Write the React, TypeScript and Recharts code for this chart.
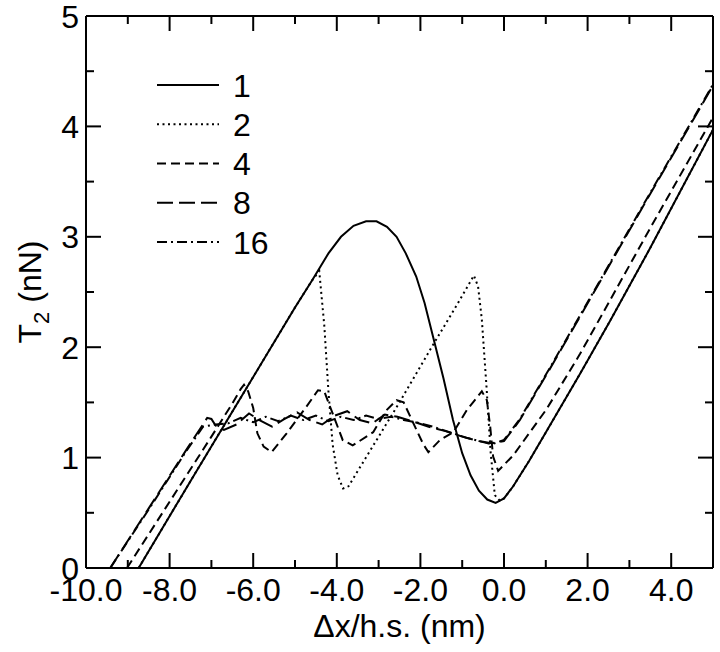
import { LineChart, Line, XAxis, YAxis, Legend, ReferenceLine } from "recharts";

type Pt = [number, number];

// values, [x (nm), T2 (nN)]
const series1: Pt[] = [
  [-8.74, 0], [-7.48, 0.8], [-6.0, 1.73], [-5.0, 2.36], [-4.6, 2.6], [-4.2, 2.85],
  [-3.9, 3.0], [-3.6, 3.1], [-3.3, 3.14], [-3.05, 3.14], [-2.8, 3.09], [-2.57, 3.0],
  [-2.35, 2.85], [-2.1, 2.64], [-1.9, 2.4], [-1.7, 2.1], [-1.45, 1.72], [-1.22, 1.34],
  [-1.0, 1.04], [-0.8, 0.84], [-0.6, 0.7], [-0.4, 0.62], [-0.2, 0.59], [0.0, 0.63],
  [0.22, 0.74], [0.6, 0.97], [1.02, 1.24], [1.82, 1.76], [2.54, 2.24], [3.5, 2.9], [5.0, 3.97],
];

const series2: Pt[] = [
  [-8.74, 0], [-7.48, 0.8], [-6.0, 1.73], [-5.0, 2.36], [-4.6, 2.6], [-4.42, 2.69],
  [-4.3, 2.2], [-4.2, 1.6], [-4.1, 1.12], [-3.98, 0.84], [-3.85, 0.72], [-3.72, 0.74],
  [-3.4, 0.94], [-2.5, 1.5], [-1.7, 2.02], [-1.1, 2.4], [-0.72, 2.65], [-0.62, 2.55],
  [-0.53, 2.25], [-0.42, 1.65], [-0.32, 1.05], [-0.22, 0.66], [-0.1, 0.61], [0.0, 0.63],
  [0.22, 0.74], [0.6, 0.97], [1.02, 1.24], [1.82, 1.76], [2.54, 2.24], [3.5, 2.9], [5.0, 3.97],
];

const series4: Pt[] = [
  [-9.02, 0], [-8.0, 0.6], [-7.0, 1.19], [-6.5, 1.49], [-6.3, 1.62], [-6.22, 1.66],
  [-6.12, 1.6], [-6.0, 1.45], [-5.9, 1.22], [-5.75, 1.1], [-5.56, 1.05], [-5.2, 1.22],
  [-4.73, 1.46], [-4.45, 1.61], [-4.3, 1.6], [-4.1, 1.4], [-3.86, 1.16], [-3.62, 1.11],
  [-3.13, 1.23], [-2.81, 1.43], [-2.57, 1.52], [-2.4, 1.5], [-2.13, 1.28], [-1.93, 1.12],
  [-1.81, 1.05], [-1.53, 1.16], [-1.21, 1.23], [-0.89, 1.43], [-0.53, 1.6], [-0.41, 1.52],
  [-0.33, 1.28], [-0.26, 1.01], [-0.14, 0.88], [0.22, 1.02], [1.02, 1.44], [1.82, 1.94],
  [2.5, 2.4], [3.5, 3.08], [5.0, 4.08],
];

const series8: Pt[] = [
  [-9.42, 0], [-8.5, 0.54], [-7.6, 1.07], [-7.1, 1.36], [-7.0, 1.35], [-6.9, 1.29],
  [-6.7, 1.25], [-6.4, 1.3], [-6.1, 1.4], [-5.85, 1.34], [-5.55, 1.28], [-5.25, 1.35],
  [-4.95, 1.41], [-4.65, 1.34], [-4.35, 1.3], [-4.05, 1.38], [-3.75, 1.42], [-3.45, 1.34],
  [-3.15, 1.31], [-2.85, 1.39], [-2.55, 1.37], [-2.2, 1.33], [-1.8, 1.28], [-1.4, 1.24],
  [-1.0, 1.19], [-0.6, 1.15], [-0.3, 1.13], [0.0, 1.15], [0.38, 1.34], [1.2, 1.87],
  [2.14, 2.49], [3.5, 3.39], [5.0, 4.37],
];

const series16: Pt[] = [
  [-9.42, 0], [-8.5, 0.53], [-7.6, 1.06], [-7.2, 1.28], [-6.9, 1.3], [-6.6, 1.31],
  [-6.3, 1.36], [-6.0, 1.32], [-5.7, 1.37], [-5.4, 1.33], [-5.1, 1.38], [-4.8, 1.34],
  [-4.5, 1.38], [-4.2, 1.33], [-3.9, 1.37], [-3.6, 1.34], [-3.3, 1.38], [-3.0, 1.35],
  [-2.7, 1.37], [-2.4, 1.34], [-2.1, 1.32], [-1.7, 1.28], [-1.3, 1.23], [-0.9, 1.18],
  [-0.5, 1.14], [-0.3, 1.12], [0.0, 1.16], [0.38, 1.35], [1.2, 1.88], [2.14, 2.5],
  [3.5, 3.4], [5.0, 4.38],
];

const xTicks = [-10, -9, -8, -7, -6, -5, -4, -3, -2, -1, 0, 1, 2, 3, 4, 5];
const yTicks = [0, 0.5, 1, 1.5, 2, 2.5, 3, 3.5, 4, 4.5, 5];
const legendLabels = ["1", "2", "4", "8", "16"];

const allSeries = [series1, series2, series4, series8, series16];
const dashes = ["", "2 3.5", "9 5", "16 6", "10 4 2 4"];

const FONT = '"Liberation Sans", Arial, Helvetica, sans-serif';
const MAJOR = 15;
const MINOR = 8;
const X_MIN = -10;
const X_MAX = 5;
const Y_MIN = 0;
const Y_MAX = 5;
// plot box is 627 x 552 px, used to turn tick lengths into axis units
const pxPerX = 627 / (X_MAX - X_MIN);
const pxPerY = 552 / (Y_MAX - Y_MIN);

const toRows = (pts: Pt[]) => pts.map(([x, y]) => ({ x, y }));

// inward ticks on all four sides, as segments in axis units
const tickSegments = [
  ...xTicks.flatMap((v) => {
    const l = (v % 2 === 0 ? MAJOR : MINOR) / pxPerY;
    return [
      [{ x: v, y: Y_MIN }, { x: v, y: Y_MIN + l }],
      [{ x: v, y: Y_MAX }, { x: v, y: Y_MAX - l }],
    ];
  }),
  ...yTicks.flatMap((v) => {
    const l = (Number.isInteger(v) ? MAJOR : MINOR) / pxPerX;
    return [
      [{ x: X_MIN, y: v }, { x: X_MIN + l, y: v }],
      [{ x: X_MAX, y: v }, { x: X_MAX - l, y: v }],
    ];
  }),
];

function BottomTick({ x, y, payload }: any) {
  const v = payload.value;
  if (v % 2 !== 0) return <g />;
  return (
    <text x={x} y={y + 33} textAnchor="middle" fontSize={32} fontFamily={FONT} fill="#000">
      {v.toFixed(1)}
    </text>
  );
}

function LeftTick({ x, y, payload }: any) {
  const v = payload.value;
  if (!Number.isInteger(v)) return <g />;
  return (
    <text x={x - 7} y={y + 11.5} textAnchor="end" fontSize={32} fontFamily={FONT} fill="#000">
      {v}
    </text>
  );
}

function XLabel({ viewBox }: any) {
  const vb = viewBox || { x: 86, y: 568, width: 627 };
  return (
    <text x={vb.x + vb.width / 2} y={vb.y + 69} textAnchor="middle" fontSize={32} fontFamily={FONT} fill="#000">
      Δx/h.s. (nm)
    </text>
  );
}

function YLabel({ viewBox }: any) {
  const vb = viewBox || { x: 0, y: 16, height: 552 };
  const cx = vb.x + 41;
  const cy = vb.y + vb.height / 2;
  return (
    <text transform={`translate(${cx},${cy}) rotate(-90)`} textAnchor="middle" fontSize={32} fontFamily={FONT} fill="#000">
      T<tspan fontSize={22} dy={8}>2</tspan>
      <tspan dy={-8}> (nN)</tspan>
    </text>
  );
}

function LegendBox() {
  return (
    <svg width={300} height={270}>
      {legendLabels.map((label, i) => {
        const cy = 85 + i * 39.25;
        return (
          <g key={label}>
            <line x1={157} x2={219} y1={cy} y2={cy} stroke="#000" strokeWidth={2} strokeDasharray={dashes[i] || undefined} />
            <text x={233} y={cy + 11.5} fontSize={32} fontFamily={FONT} fill="#000">
              {label}
            </text>
          </g>
        );
      })}
    </svg>
  );
}

export default function App() {
  return (
    <div style={{ width: 720, height: 652, background: "#fff" }}>
      <style>{"body{margin:0;background:#fff}"}</style>
      <LineChart width={720} height={652} margin={{ top: 16, right: 7, bottom: 0, left: 0 }}>
        <XAxis
          dataKey="x"
          type="number"
          domain={[X_MIN, X_MAX]}
          ticks={xTicks}
          interval={0}
          allowDataOverflow
          height={84}
          tickSize={0}
          tickMargin={0}
          tickLine={false}
          axisLine={{ stroke: "#000", strokeWidth: 2 }}
          tick={<BottomTick />}
          label={<XLabel />}
        />
        <YAxis
          type="number"
          domain={[Y_MIN, Y_MAX]}
          ticks={yTicks}
          interval={0}
          allowDataOverflow
          width={86}
          tickSize={0}
          tickMargin={0}
          tickLine={false}
          axisLine={{ stroke: "#000", strokeWidth: 2 }}
          tick={<LeftTick />}
          label={<YLabel />}
        />
        <ReferenceLine y={Y_MAX} stroke="#000" strokeWidth={2} ifOverflow="visible" />
        <ReferenceLine x={X_MAX} stroke="#000" strokeWidth={2} ifOverflow="visible" />
        {tickSegments.map((seg, i) => (
          <ReferenceLine key={`t${i}`} segment={seg} stroke="#000" strokeWidth={2} ifOverflow="visible" />
        ))}
        {allSeries.map((s, i) => (
          <Line
            key={legendLabels[i]}
            name={legendLabels[i]}
            data={toRows(s)}
            dataKey="y"
            type="linear"
            stroke="#000"
            strokeWidth={2}
            strokeDasharray={dashes[i] || undefined}
            dot={false}
            activeDot={false}
            isAnimationActive={false}
          />
        ))}
        <Legend
          layout="vertical"
          align="center"
          verticalAlign="middle"
          wrapperStyle={{ left: 0, top: 0, width: 300, height: 270, pointerEvents: "none" }}
          content={() => <LegendBox />}
        />
      </LineChart>
    </div>
  );
}
